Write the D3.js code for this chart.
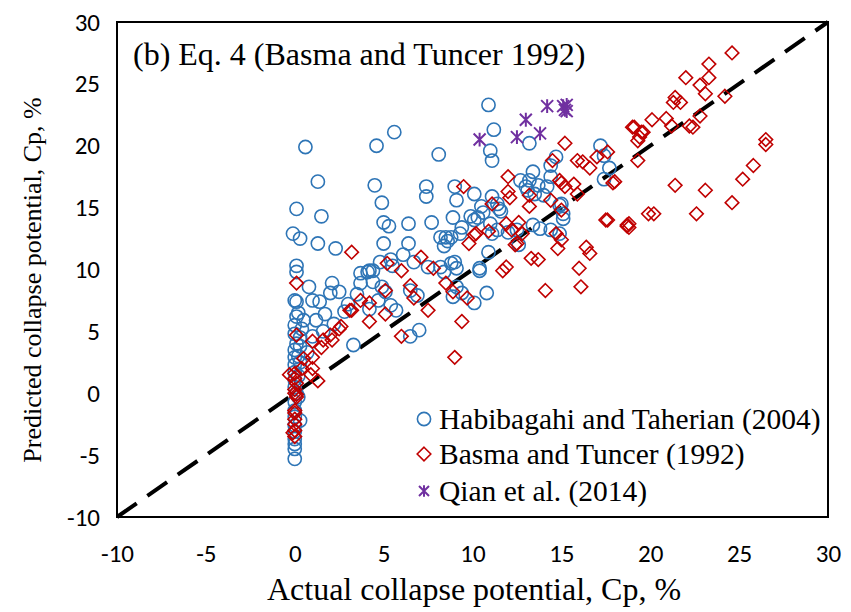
<!DOCTYPE html>
<html><head><meta charset="utf-8">
<script src="https://cdn.jsdelivr.net/npm/d3@7"></script>
<style>body{margin:0;background:#fff}
.serif{font-family:"Liberation Serif","Times New Roman",Times,"DejaVu Serif",serif;}
.tick text{font-family:Carlito,"Liberation Sans",Arial,sans-serif !important;}
</style>
</head><body>
<svg id="c" width="851" height="612"></svg>
<script>
const xTicks = [-10,-5,0,5,10,15,20,25,30];
const yTicks = [-10,-5,0,5,10,15,20,25,30];
const seriesNames = ["Habibagahi and Taherian (2004)","Basma and Tuncer (1992)","Qian et al. (2014)"];
const annotation = "(b) Eq. 4 (Basma and Tuncer 1992)";
const xTitle = "Actual collapse potential, Cp, %";
const yTitle = "Predicted collapse potential, Cp, %";

const habibagahi = [
[0,-5.3],[0,-4.5],[0,-4.1],[0,-3.7],[0,-3.1],[0,-2.6],[0,-1.9],[0,-1.4],[0,-0.7],[0.1,0],[0,0.5],[0,1.1],[0,1.7],[0,2.3],[0,2.9],[0,3.5],[0.1,4.0],[0,4.8],[0,5.5],[0.5,5.9],[0,7.5],[0.1,7.4],[0.1,9.8],[0.1,10.3],[-0.1,12.9],[0.3,12.5],[0.1,14.9],
[0.3,4.5],[0.2,3.0],[0.3,2.5],[0.2,6.5],[0.1,6.2],[0.3,-2.2],[0.2,-0.3],[0.2,1.4],[0.3,3.8],[0.4,5.2],
[0.6,19.9],[1.3,17.1],[1.5,14.3],[1.3,12.1],[2.3,11.7],[0.8,8.6],[2.1,8.9],[2.5,8.2],[2.0,8.1],[1.0,7.5],[1.4,7.4],[1.7,6.4],[1.2,5.9],[3.3,3.9],[2.8,6.6],[2.2,5.6],[1.0,4.6],[1.6,5.0],[0.7,3.3],
[4.6,20.0],[5.6,21.1],[8.1,19.3],[4.5,16.8],[7.4,16.7],[7.4,15.9],[9.0,16.7],[4.9,15.4],[9.1,15.6],[8.9,14.2],[5.0,13.8],[5.3,13.5],[6.4,13.7],[7.7,13.8],[5.0,12.1],[6.4,12.1],[8.2,12.6],[8.5,12.6],[8.8,12.6],[8.6,12.3],[8.4,11.9],
[3.7,9.7],[4.1,9.8],[4.4,9.9],[4.8,10.6],[5.4,10.8],[5.5,10.3],[6.1,11.2],[6.7,10.6],[7.5,10.2],[9.0,10.6],[8.4,9.8],[10.4,9.9],[3.7,8.9],[4.2,9.9],[4.4,9.0],[4.9,8.6],[5.1,8.2],[4.7,7.5],[4.2,6.8],[5.4,7.1],[5.7,6.7],[6.5,8.3],[6.9,7.9],[7.0,5.1],[6.5,4.6],[8.2,10.2],[8.8,10.5],[9.1,8.6],[9.4,8.1],[10.1,7.3],[10.8,8.1],[10.4,10.1],[8.9,7.8],[3.0,7.2],[3.5,8.0],
[10.9,23.3],[11.2,21.3],[11.0,19.6],[11.1,18.8],[10.1,16.1],[11.1,15.9],[11.4,15.3],[11.5,14.9],[11.6,14.7],[10.5,15.1],[9.9,14.3],[10.1,14.0],[10.6,14.6],[9.4,13.4],[9.3,12.9],[11.4,13.2],[12.5,13.2],[12.6,12.0],[13.0,16.7],[13.5,16.1],[14.0,16.0],[14.2,16.7],[13.4,13.6],[13.8,13.3],[14.4,13.2],[15.0,15.3],[15.1,14.5],[10.9,11.4],[13.2,20.2],[14.7,19.1],[14.4,18.4],[14.4,17.5],[13.4,17.9],[13.2,17.2],[12.7,17.2],[13.1,16.4],[13.7,16.8],[14.9,15.2],[15.1,14.1],[14.9,12.9],[10.3,14.2],[11.0,13.7],[11.1,12.9],[12.0,13.0],[9.1,10.1],
[17.2,20.0],[17.4,19.2],[17.7,18.2],[17.4,17.3]
];
const basma = [
[0.1,8.9],[0.1,4.7],[-0.3,1.5],[0,1.6],[0,1.2],[0.1,0.8],[0,0],[0.1,-0.3],[0,-1.4],[0,-1.6],[0,-2.1],[0,-2.5],[0,-3.0],[0,-3.5],[-0.1,-3.2],[0,0.3],[0.1,-0.1],
[0.5,2.8],[0.4,2.0],[1.0,2.9],[1.0,2.0],[0.9,1.5],[1.3,1.0],[1.0,4.2],[1.5,3.7],[1.6,4.3],[2.0,4.7],[2.1,4.3],[2.6,5.4],[2.5,5.2],[3.2,6.7],[3.1,6.7],[3.7,7.5],[4.2,7.3],[4.2,5.8],[5.1,6.4],[5.1,8.3],[5.2,10.5],[6.0,9.9],[6.5,8.7],[6.7,7.7],[7.1,11.0],[7.8,10.1],[7.5,6.7],[6.0,4.6],[3.2,11.4],[8.5,8.9],[8.9,8.2],[9.7,7.7],[9.4,5.8],[9.0,2.9],
[9.5,16.7],[12.0,16.3],[12.1,15.8],[13.2,16.0],[13.2,15.1],[14.4,15.6],[15.0,17.0],[15.7,16.9],[15.9,16.1],[17.9,17.0],[11.1,15.3],[11.9,13.7],[12.6,13.8],[12.2,13.2],[12.8,12.9],[12.5,12.1],[10.2,12.9],[10.1,12.8],[9.8,12.1],[15.0,14.8],[14.7,12.9],[15.0,12.4],[14.8,11.7],[17.5,14.0],[16.4,11.8],[16.6,11.3],[16.0,10.1],[16.1,8.6],[14.1,8.3],[13.3,10.9],[13.7,10.8],[11.9,10.2],[11.7,9.9],[12.0,17.5],[14.5,18.8],[15.2,20.2],[14.9,17.2],[15.2,16.7],[15.9,18.8],[16.2,18.7],[16.6,18.2],[17.0,19.1],[17.6,19.5],[19.1,21.5],[19.5,21.1],[19.3,20.4],[19.3,18.8],[18.0,17.1],[17.6,14.0],[18.7,13.6],[18.8,13.4],[10.9,13.1],[12.4,12.0],
[24.6,27.5],[23.3,26.6],[22.0,25.5],[23.3,25.5],[22.8,24.9],[23.1,24.2],[24.2,24.0],[21.4,23.9],[21.3,23.5],[21.7,23.5],[22.8,22.4],[22.2,21.6],[22.4,21.5],[20.9,22.2],[21.2,21.6],[20.1,22.1],[19.0,21.5],[19.6,21.1],[19.4,20.7],
[26.5,20.5],[26.5,20.1],[25.8,18.4],[25.2,17.3],[24.6,15.4],[23.1,16.4],[22.6,14.5],[21.4,16.8],[20.2,14.5],[19.9,14.5],[18.8,13.7],[18.7,13.5]
];
const qian = [[10.4,20.5],[12.5,20.7],[13.0,22.1],[13.8,21.0],[14.2,23.2],[15.1,23.2],[15.2,22.9],[15.3,23.3],[15.3,22.8]];

const colors = ["#2E75B6","#C00000","#7030A0"];
const svg = d3.select("#c");
const L=117,R=828,T=22,B=517;
const x = d3.scaleLinear().domain([-10,30]).range([L,R]);
const y = d3.scaleLinear().domain([-10,30]).range([B,T]);
const fmt = d => String(d);

const xa = svg.append("g").attr("transform",`translate(0,${B})`)
  .call(d3.axisBottom(x).tickValues(xTicks).tickFormat(fmt).tickSize(0).tickPadding(27));
const ya = svg.append("g").attr("transform",`translate(${L},0)`)
  .call(d3.axisLeft(y).tickValues(yTicks).tickFormat(fmt).tickSize(0).tickPadding(17));
[xa,ya].forEach(a=>{a.select(".domain").remove();
  a.attr("font-family",null).attr("font-size",null);
  a.selectAll("text").style("font-size","25px").attr("fill","#000");});
xa.selectAll("text").attr("dy","0.71em");

svg.append("line").attr("x1",x(-10)).attr("y1",y(-10)).attr("x2",x(30)).attr("y2",y(30))
  .attr("stroke","#000").attr("stroke-width",4).attr("stroke-dasharray","24,13");

const g = svg.append("g");
g.selectAll("circle.h").data(habibagahi).join("circle").attr("class","h")
  .attr("cx",d=>x(d[0])).attr("cy",d=>y(d[1])).attr("r",6.6)
  .attr("fill","none").attr("stroke",colors[0]).attr("stroke-width",1.6);
const dia = s=>`M0,${-s}L${s},0L0,${s}L${-s},0Z`;
g.selectAll("path.b").data(basma).join("path").attr("class","b")
  .attr("transform",d=>`translate(${x(d[0])},${y(d[1])})`).attr("d",dia(6.8))
  .attr("fill","none").attr("stroke",colors[1]).attr("stroke-width",1.6);
const star = s=>`M${-s},${-s}L${s},${s}M${-s},${s}L${s},${-s}M0,${-s*1.15}L0,${s*1.15}`;
g.selectAll("path.q").data(qian).join("path").attr("class","q")
  .attr("transform",d=>`translate(${x(d[0])},${y(d[1])})`).attr("d",star(6))
  .attr("fill","none").attr("stroke",colors[2]).attr("stroke-width",2);

svg.append("rect").attr("x",L).attr("y",T).attr("width",R-L).attr("height",B-T)
  .attr("fill","none").attr("stroke","#000").attr("stroke-width",2);

svg.append("text").attr("class","serif").attr("x",133).attr("y",65).text(annotation)
  .style("font-size","32px");

const leg = svg.append("g");
const ly=[419,454,491];
seriesNames.forEach((n,i)=>{
  const gx=424, gy=ly[i];
  if(i===0) leg.append("circle").attr("cx",gx).attr("cy",gy).attr("r",6.6).attr("fill","none").attr("stroke",colors[0]).attr("stroke-width",1.6);
  if(i===1) leg.append("path").attr("transform",`translate(${gx},${gy})`).attr("d",dia(6.8)).attr("fill","none").attr("stroke",colors[1]).attr("stroke-width",1.6);
  if(i===2) leg.append("path").attr("transform",`translate(${gx},${gy})`).attr("d",star(5)).attr("fill","none").attr("stroke",colors[2]).attr("stroke-width",2);
  leg.append("text").attr("class","serif").attr("x",439).attr("y",gy+10).text(n).style("font-size","29.5px");
});

svg.append("text").attr("class","serif").attr("x",474).attr("y",600).attr("text-anchor","middle").text(xTitle)
  .style("font-size","32px");
svg.append("text").attr("class","serif").attr("transform",`translate(41,280) rotate(-90)`).attr("text-anchor","middle").text(yTitle)
  .style("font-size","26px");
</script>
</body></html>
